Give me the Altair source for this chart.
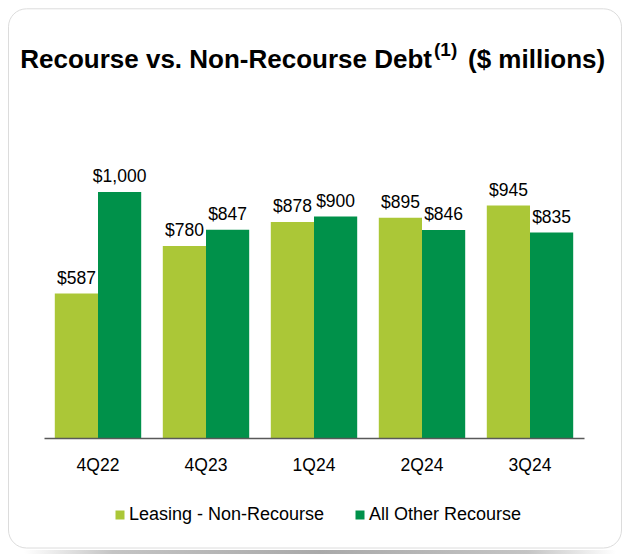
import altair as alt
import pandas as pd

quarters = ["4Q22", "4Q23", "1Q24", "2Q24", "3Q24"]
leasing_non_recourse = [587, 780, 878, 895, 945]
all_other_recourse = [1000, 847, 900, 846, 835]
series = ["Leasing - Non-Recourse", "All Other Recourse"]
colors = ["#abc737", "#00914a"]

rows = []
for q, a, b in zip(quarters, leasing_non_recourse, all_other_recourse):
    rows.append({"quarter": q, "series": series[0], "value": a})
    rows.append({"quarter": q, "series": series[1], "value": b})
df = pd.DataFrame(rows)
one = pd.DataFrame({"k": [0]})

FONT = "Liberation Sans"

x = alt.X(
    "quarter:N",
    sort=quarters,
    scale=alt.Scale(paddingInner=0.2, paddingOuter=0.1),
    axis=alt.Axis(
        title=None, labelAngle=0, ticks=False, tickSize=0, labelPadding=18,
        labelFontSize=17.5, labelFont=FONT, labelColor="#000000",
        domainColor="#595959", domainWidth=1.5, grid=False, zindex=2,
    ),
)
xo = alt.XOffset("series:N", sort=series, scale=alt.Scale(paddingInner=0, paddingOuter=0))
y = alt.Y("value:Q", scale=alt.Scale(domain=[0, 1000], nice=False, zero=True), axis=None)
color = alt.Color(
    "series:N",
    sort=series,
    scale=alt.Scale(domain=series, range=colors),
    legend=alt.Legend(
        title=None, orient="none", legendX=67, legendY=314, direction="horizontal",
        symbolType="square", symbolSize=81, symbolStrokeWidth=0,
        labelFontSize=18, labelFont=FONT, labelColor="#000000", labelLimit=0,
        labelOffset=0, columnPadding=26, padding=0, zindex=2,
    ),
)

shadow = alt.Chart(one).mark_rect(
    fill=alt.Gradient(
        gradient="linear", x1=0, x2=1, y1=0, y2=0,
        stops=[
            alt.GradientStop(color="#ffffff", offset=0),
            alt.GradientStop(color="#c4c4c4", offset=0.15),
            alt.GradientStop(color="#a9a9a9", offset=0.5),
            alt.GradientStop(color="#c4c4c4", offset=0.85),
            alt.GradientStop(color="#ffffff", offset=1),
        ],
    )
).encode(x=alt.value(-20), x2=alt.value(572), y=alt.value(358), y2=alt.value(362))

border = alt.Chart(one).mark_rect(
    fill="#ffffff", stroke="#dcdcdc", strokeWidth=1, cornerRadius=18
).encode(x=alt.value(-35.5), x2=alt.value(577.5), y=alt.value(-183.2), y2=alt.value(356))

bars = alt.Chart(df).mark_bar().encode(x=x, xOffset=xo, y=y, color=color)

labels = alt.Chart(df).mark_text(
    fontSize=17.5, font=FONT, baseline="alphabetic", dy=-10, color="#000000"
).encode(x=x, xOffset=xo, y=y, text=alt.Text("value:Q", format="$,.0f"))

t1 = alt.Chart(one).mark_text(
    text="Recourse vs. Non-Recourse Debt", font=FONT, fontWeight="bold", fontSize=26,
    align="right", baseline="alphabetic", color="#000000"
).encode(x=alt.value(388), y=alt.value(-123.7))
t2 = alt.Chart(one).mark_text(
    text="(1)", font=FONT, fontWeight="bold", fontSize=19,
    align="left", baseline="alphabetic", color="#000000"
).encode(x=alt.value(390), y=alt.value(-135.7))
t3 = alt.Chart(one).mark_text(
    text="($ millions)", font=FONT, fontWeight="bold", fontSize=26,
    align="left", baseline="alphabetic", color="#000000"
).encode(x=alt.value(424), y=alt.value(-123.7))

chart = (
    alt.layer(shadow, border, bars, labels, t1, t2, t3)
    .properties(width=540, height=246, padding=0, background="#ffffff")
    .configure_view(stroke=None)
)

chart.save("out.html", embed_options={"renderer": "svg", "actions": False})
